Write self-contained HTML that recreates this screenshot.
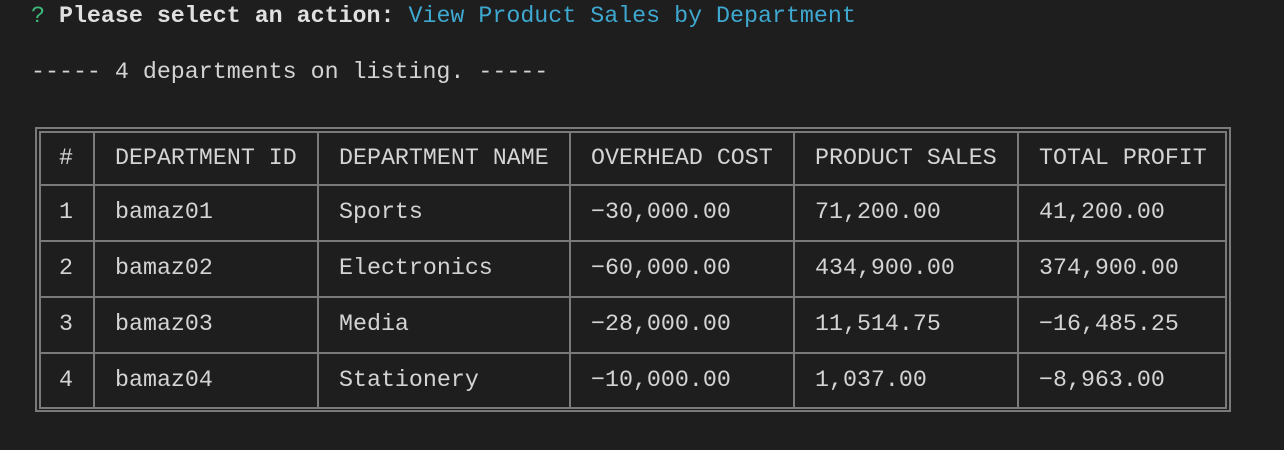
<!DOCTYPE html>
<html><head><meta charset="utf-8"><style>
body{margin:0;width:1284px;height:450px;background:#1e1e1e;overflow:hidden;position:relative;font-family:"Liberation Mono","DejaVu Sans Mono",monospace;font-size:23.3px;color:#d4d4d4}
.t{position:absolute;white-space:pre;line-height:28px}
.h{position:absolute;background:#7a7a7a;height:2px}
.v{position:absolute;background:#7a7a7a;width:2px}
</style></head><body>
<div class="t" style="left:31px;top:2px"><span style="color:#3fb97a">?</span> <b style="color:#e0e0e0">Please select an action:</b> <span style="color:#3ea8d0">View Product Sales by Department</span></div>
<div class="t" style="left:31px;top:58px">----- 4 departments on listing. -----</div>
<div id="tbl"></div>
<script>
const cols=[39,93,317,569,793,1017,1225];
const rows=[131,184,240,296,352,407];
const header=["#","DEPARTMENT ID","DEPARTMENT NAME","OVERHEAD COST","PRODUCT SALES","TOTAL PROFIT"];
const data=[
["1","bamaz01","Sports","−30,000.00","71,200.00","41,200.00"],
["2","bamaz02","Electronics","−60,000.00","434,900.00","374,900.00"],
["3","bamaz03","Media","−28,000.00","11,514.75","−16,485.25"],
["4","bamaz04","Stationery","−10,000.00","1,037.00","−8,963.00"]];
const t=document.getElementById('tbl');
function add(cls,s){const d=document.createElement('div');d.className=cls;d.style.cssText=s;t.appendChild(d);return d;}
let o=add('h','left:35px;top:127px;width:1196px');
o=add('h','left:35px;top:410px;width:1196px');
o=add('v','left:35px;top:127px;height:285px');
o=add('v','left:1229px;top:127px;height:285px');
rows.forEach(y=>{const d=add('h','left:39px;top:'+y+'px;width:1188px');

});
cols.forEach(x=>{const d=add('v','left:'+x+'px;top:131px;height:278px');

});
const all=[header].concat(data);
all.forEach((r,ri)=>{const y=(rows[ri]+rows[ri+1])/2-14;
r.forEach((c,ci)=>{const d=add('t','top:'+y+'px;left:'+(ci==0?cols[0]:cols[ci]+22)+'px;'+(ci==0?'width:54px;text-align:center':''));
d.textContent=c;

});});
</script>
</body></html>
